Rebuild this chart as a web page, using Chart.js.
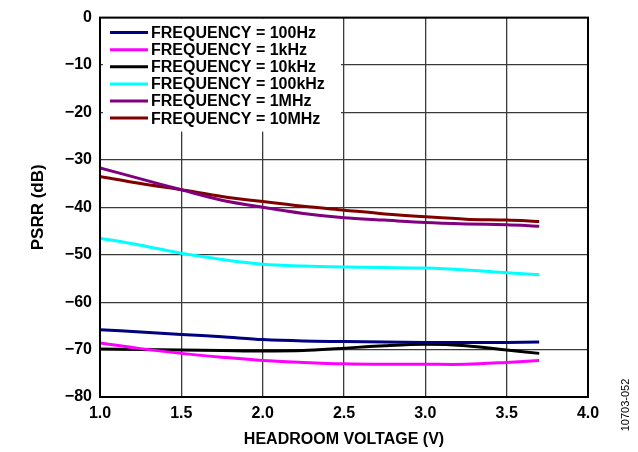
<!DOCTYPE html>
<html>
<head>
<meta charset="utf-8">
<script src="https://cdn.jsdelivr.net/npm/chart.js@4"></script>
<style>
  html, body { margin: 0; padding: 0; background: #fff; }
  #wrap { width: 638px; height: 452px; position: relative; }
</style>
</head>
<body>
<div id="wrap"><canvas id="psrrChart" width="638" height="452"></canvas></div>
<script>
const headroom = [1.0, 1.25, 1.5, 1.75, 2.0, 2.25, 2.5, 2.75, 3.0, 3.25, 3.5, 3.7];

const freq100Hz = [-65.8, -66.3, -66.8, -67.3, -67.9, -68.2, -68.3, -68.4, -68.5, -68.5, -68.5, -68.4];
const freq1kHz = [-68.6, -69.8, -70.8, -71.6, -72.3, -72.7, -73.0, -73.1, -73.1, -73.1, -72.7, -72.3];
const freq10kHz = [-69.9, -70.0, -70.1, -70.2, -70.3, -70.2, -69.7, -69.2, -68.9, -69.2, -70.1, -70.8];
const freq100kHz = [-46.5, -48.0, -49.7, -51.0, -52.0, -52.4, -52.6, -52.7, -52.8, -53.2, -53.8, -54.2];
const freq1MHz = [-31.7, -34.0, -36.3, -38.5, -40.0, -41.3, -42.2, -42.7, -43.2, -43.5, -43.7, -44.0];
const freq10MHz = [-33.5, -35.0, -36.3, -37.7, -38.8, -39.8, -40.6, -41.4, -42.0, -42.5, -42.7, -43.0];

const seriesNames = [
  "FREQUENCY = 100Hz",
  "FREQUENCY = 1kHz",
  "FREQUENCY = 10kHz",
  "FREQUENCY = 100kHz",
  "FREQUENCY = 1MHz",
  "FREQUENCY = 10MHz",
];
const seriesColors = ["#000080", "#ff00ff", "#000000", "#00ffff", "#800080", "#800000"];
const seriesValues = [freq100Hz, freq1kHz, freq10kHz, freq100kHz, freq1MHz, freq10MHz];

const xTicks = [1.0, 1.5, 2.0, 2.5, 3.0, 3.5, 4.0];
const yTicks = [0, -10, -20, -30, -40, -50, -60, -70, -80];

const FONT = "'Liberation Sans', Arial, sans-serif";

const datasets = seriesValues.map((vals, i) => ({
  label: seriesNames[i],
  data: vals.map((v, j) => ({ x: headroom[j], y: v })),
  borderColor: seriesColors[i],
  backgroundColor: seriesColors[i],
  borderWidth: 3,
  pointRadius: 0,
  tension: 0.3,
  fill: false,
}));

// legend drawn inside the plot, on a white patch over the grid
const boxLegend = {
  id: "boxLegend",
  beforeDatasetsDraw(chart) {
    const { ctx, chartArea } = chart;
    const left = chartArea.left;
    const top = chartArea.top;
    ctx.save();
    ctx.fillStyle = "#fff";
    ctx.fillRect(left + 3, top + 1, 238, 113);
    ctx.font = "bold 16px " + FONT;
    ctx.textBaseline = "middle";
    chart.data.datasets.forEach((ds, i) => {
      const y = top + 15 + i * 17.1;
      ctx.strokeStyle = ds.borderColor;
      ctx.lineWidth = 3;
      ctx.beginPath();
      ctx.moveTo(left + 10, y);
      ctx.lineTo(left + 48, y);
      ctx.stroke();
      ctx.fillStyle = "#000";
      ctx.fillText(ds.label, left + 51, y + 1);
    });
    ctx.restore();
  },
  afterDraw(chart) {
    const { ctx, chartArea } = chart;
    ctx.save();
    ctx.strokeStyle = "#000";
    ctx.lineWidth = 2;
    ctx.strokeRect(chartArea.left, chartArea.top, chartArea.right - chartArea.left, chartArea.bottom - chartArea.top);
    // figure number on the right edge
    ctx.translate(626, 405);
    ctx.rotate(-Math.PI / 2);
    ctx.font = "11px " + FONT;
    ctx.fillStyle = "#000";
    ctx.textAlign = "center";
    ctx.textBaseline = "middle";
    ctx.fillText("10703-052", 0, 0);
    ctx.restore();
  },
};

const chart = new Chart(document.querySelector("#psrrChart"), {
  type: "line",
  data: { datasets: datasets },
  options: {
    responsive: false,
    animation: false,
    layout: { padding: { left: 0, top: 17, right: 50, bottom: 0 } },
    plugins: { legend: { display: false }, tooltip: { enabled: false } },
    scales: {
      x: {
        type: "linear",
        min: 1.0,
        max: 4.0,
        afterFit: (scale) => { scale.height = 55; },
        afterBuildTicks: (scale) => { scale.ticks = xTicks.map((v) => ({ value: v })); },
        ticks: {
          padding: 7,
          color: "#000",
          font: { family: FONT, size: 16, weight: "bold" },
          callback: (v) => v.toFixed(1),
        },
        grid: { color: "#3a3a3a", lineWidth: 1.3, drawTicks: false },
        border: { color: "#000", width: 2 },
        title: {
          display: true,
          text: "HEADROOM VOLTAGE (V)",
          color: "#000",
          font: { family: FONT, size: 16, weight: "bold" },
          padding: { top: 0, bottom: 3 },
        },
      },
      y: {
        type: "linear",
        min: -80,
        max: 0,
        afterFit: (scale) => { scale.width = 100; },
        afterBuildTicks: (scale) => { scale.ticks = yTicks.map((v) => ({ value: v })); },
        ticks: {
          padding: 8,
          color: "#000",
          font: { family: FONT, size: 16, weight: "bold" },
          callback: (v) => (v < 0 ? "\u2212" + Math.abs(v) : "" + v),
        },
        grid: { color: "#3a3a3a", lineWidth: 1.3, drawTicks: false },
        border: { color: "#000", width: 2 },
        title: {
          display: true,
          text: "PSRR (dB)",
          color: "#000",
          font: { family: FONT, size: 17, weight: "bold" },
          padding: { top: 28, bottom: 0 },
        },
      },
    },
  },
  plugins: [boxLegend],
});
</script>
</body>
</html>
